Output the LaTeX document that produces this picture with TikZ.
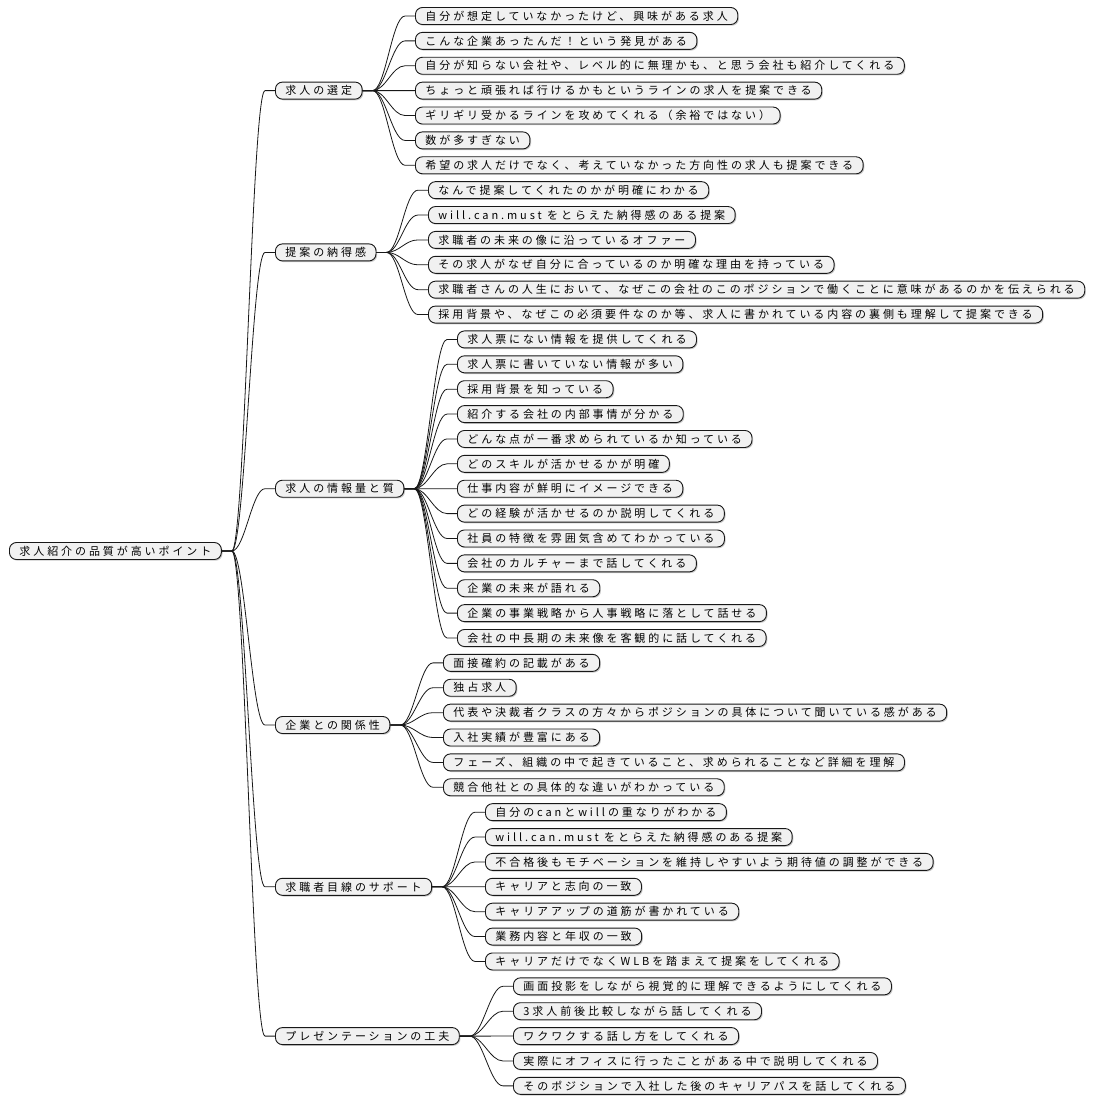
\documentclass[tikz,border=0pt]{standalone}
\usepackage{fontspec}
\setmainfont{Noto Sans CJK JP}[LetterSpace=26.5]
\usetikzlibrary{calc,shadows}
\definecolor{boxfill}{HTML}{F1F1F1}
\definecolor{lineclr}{HTML}{181818}
\newcommand\mmlink[2]{\draw[link] (#1.east) -- ++(10,0) .. controls +(13,0) and +(-13,0) .. ($(#2.west)+(-10,0)$) -- (#2.west);}
\newcommand\mmleaf[5]{\node[box] (#1) at (#3,{16+24.88*#4}) {#5}; \mmlink{#2}{#1}}
\begin{document}
\begin{tikzpicture}[x=1pt,y=-1pt,
  box/.style={draw=lineclr, line width=0.9pt, fill=boxfill, rounded corners=7pt,
    anchor=west, minimum height=17pt, inner xsep=10pt, inner ysep=0pt,
    font=\fontsize{11pt}{13pt}\selectfont,
    drop shadow={shadow xshift=1.2pt, shadow yshift=-1.2pt, opacity=0.35, fill=black!60}},
  link/.style={draw=lineclr, line width=0.8pt}]
\fill[white] (0,0) rectangle (1104,1104);
\useasboundingbox (0,0) rectangle (1104,1104);

\node[box] (root) at (9,551) {求人紹介の品質が高いポイント};

\node[box] (a1) at (275,90.6) {求人の選定};
\node[box] (a2) at (275,252.4) {提案の納得感};
\node[box] (a3) at (275,488.7) {求人の情報量と質};
\node[box] (a4) at (275,725.0) {企業との関係性};
\node[box] (a5) at (275,886.8) {求職者目線のサポート};
\node[box] (a6) at (275,1036.1) {プレゼンテーションの工夫};
\foreach \k in {a1,a2,a3,a4,a5,a6} {\mmlink{root}{\k}}

\mmleaf{b0}{a1}{415}{0}{自分が想定していなかったけど、興味がある求人}
\mmleaf{b1}{a1}{415}{1}{こんな企業あったんだ！という発見がある}
\mmleaf{b2}{a1}{415}{2}{自分が知らない会社や、レベル的に無理かも、と思う会社も紹介してくれる}
\mmleaf{b3}{a1}{415}{3}{ちょっと頑張れば行けるかもというラインの求人を提案できる}
\mmleaf{b4}{a1}{415}{4}{ギリギリ受かるラインを攻めてくれる（余裕ではない）}
\mmleaf{b5}{a1}{415}{5}{数が多すぎない}
\mmleaf{b6}{a1}{415}{6}{希望の求人だけでなく、考えていなかった方向性の求人も提案できる}

\mmleaf{b7}{a2}{428}{7}{なんで提案してくれたのかが明確にわかる}
\mmleaf{b8}{a2}{428}{8}{will.can.must をとらえた納得感のある提案}
\mmleaf{b9}{a2}{428}{9}{求職者の未来の像に沿っているオファー}
\mmleaf{b10}{a2}{428}{10}{その求人がなぜ自分に合っているのか明確な理由を持っている}
\mmleaf{b11}{a2}{428}{11}{求職者さんの人生において、なぜこの会社のこのポジションで働くことに意味があるのかを伝えられる}
\mmleaf{b12}{a2}{428}{12}{採用背景や、なぜこの必須要件なのか等、求人に書かれている内容の裏側も理解して提案できる}

\mmleaf{b13}{a3}{457}{13}{求人票にない情報を提供してくれる}
\mmleaf{b14}{a3}{457}{14}{求人票に書いていない情報が多い}
\mmleaf{b15}{a3}{457}{15}{採用背景を知っている}
\mmleaf{b16}{a3}{457}{16}{紹介する会社の内部事情が分かる}
\mmleaf{b17}{a3}{457}{17}{どんな点が一番求められているか知っている}
\mmleaf{b18}{a3}{457}{18}{どのスキルが活かせるかが明確}
\mmleaf{b19}{a3}{457}{19}{仕事内容が鮮明にイメージできる}
\mmleaf{b20}{a3}{457}{20}{どの経験が活かせるのか説明してくれる}
\mmleaf{b21}{a3}{457}{21}{社員の特徴を雰囲気含めてわかっている}
\mmleaf{b22}{a3}{457}{22}{会社のカルチャーまで話してくれる}
\mmleaf{b23}{a3}{457}{23}{企業の未来が語れる}
\mmleaf{b24}{a3}{457}{24}{企業の事業戦略から人事戦略に落として話せる}
\mmleaf{b25}{a3}{457}{25}{会社の中長期の未来像を客観的に話してくれる}

\mmleaf{b26}{a4}{443}{26}{面接確約の記載がある}
\mmleaf{b27}{a4}{443}{27}{独占求人}
\mmleaf{b28}{a4}{443}{28}{代表や決裁者クラスの方々からポジションの具体について聞いている感がある}
\mmleaf{b29}{a4}{443}{29}{入社実績が豊富にある}
\mmleaf{b30}{a4}{443}{30}{フェーズ、組織の中で起きていること、求められることなど詳細を理解}
\mmleaf{b31}{a4}{443}{31}{競合他社との具体的な違いがわかっている}

\mmleaf{b32}{a5}{485}{32}{自分のcanとwillの重なりがわかる}
\mmleaf{b33}{a5}{485}{33}{will.can.must をとらえた納得感のある提案}
\mmleaf{b34}{a5}{485}{34}{不合格後もモチベーションを維持しやすいよう期待値の調整ができる}
\mmleaf{b35}{a5}{485}{35}{キャリアと志向の一致}
\mmleaf{b36}{a5}{485}{36}{キャリアアップの道筋が書かれている}
\mmleaf{b37}{a5}{485}{37}{業務内容と年収の一致}
\mmleaf{b38}{a5}{485}{38}{キャリアだけでなくWLBを踏まえて提案をしてくれる}

\mmleaf{b39}{a6}{513}{39}{画面投影をしながら視覚的に理解できるようにしてくれる}
\mmleaf{b40}{a6}{513}{40}{3求人前後比較しながら話してくれる}
\mmleaf{b41}{a6}{513}{41}{ワクワクする話し方をしてくれる}
\mmleaf{b42}{a6}{513}{42}{実際にオフィスに行ったことがある中で説明してくれる}
\mmleaf{b43}{a6}{513}{43}{そのポジションで入社した後のキャリアパスを話してくれる}
\end{tikzpicture}
\end{document}
